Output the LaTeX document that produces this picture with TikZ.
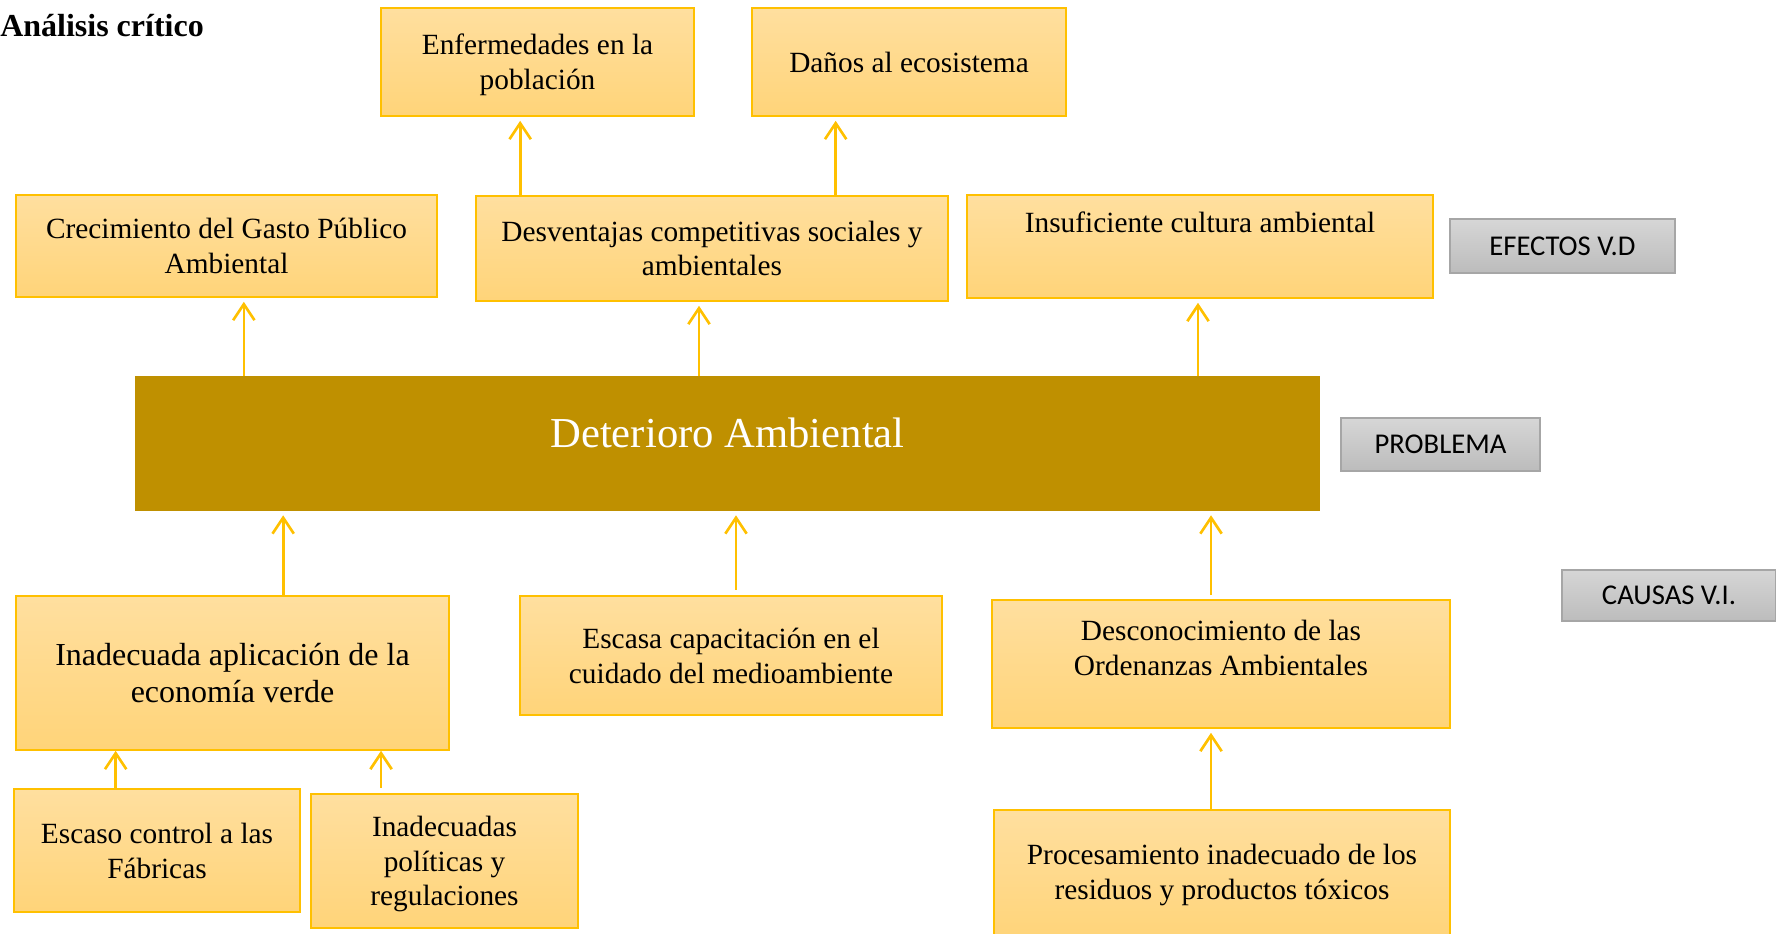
\documentclass[tikz,border=0pt]{standalone}
\usepackage{fontspec}
\setmainfont{Liberation Serif}
\newfontfamily\calibri{Carlito}
\usepackage{tikz}
\usetikzlibrary{arrows.meta}
\definecolor{oro}{HTML}{FFC000}
\definecolor{cajaA}{HTML}{FFDF9F}
\definecolor{cajaB}{HTML}{FFD479}
\definecolor{mostaza}{HTML}{BF9000}
\definecolor{grisA}{HTML}{D6D6D6}
\definecolor{grisB}{HTML}{BCBCBC}
\definecolor{grisC}{HTML}{A6A6A6}
\tikzset{>={Straight Barb[length=12pt,width=16pt]}}
\tikzset{caja/.style = {rectangle, draw=oro, line width=1.2pt, top color=cajaA, bottom color=cajaB, align=center, inner sep=0, font=\fontsize{22}{26}\selectfont}}
\tikzset{etiqueta/.style = {rectangle, draw=grisC, line width=1.2pt, top color=grisA, bottom color=grisB, inner sep=0, font=\calibri\fontsize{21.5}{25}\selectfont}}
\tikzset{flecha/.style = {->, draw=oro, line width=2pt, shorten >=3pt}}
\tikzset{tam/.style 2 args = {minimum width=#1*0.75pt, minimum height=#2*0.75pt}}

\begin{document}
\begin{tikzpicture}[x=0.75pt, y=-0.75pt]
\useasboundingbox (0,0) rectangle (1776,934);
\node [anchor=west, inner sep=0, font=\bfseries\fontsize{24}{28}\selectfont] (titulo) at (0,26) {Análisis crítico};

% efectos
\node [caja, tam={313}{108}, text depth=0pt] (enf) at (537.5,62) {Enfermedades en la\\población};
\node [caja, tam={314}{108}] (danos) at (909,62) {Daños al ecosistema};
\node [caja, tam={421}{102}] (crec) at (226.5,246) {Crecimiento del Gasto Público\\Ambiental};
\node [caja, tam={472}{105}] (desv) at (712,248.5) {Desventajas competitivas sociales y\\ambientales};
\node [caja, tam={466}{103}, text depth=36pt] (insuf) at (1200,246.5) {Insuficiente cultura ambiental};

% problema
\node [rectangle, fill=mostaza, inner sep=0, tam={1185}{135}, text=white, text depth=16pt, font=\fontsize{32}{38}\selectfont] (det) at (727.5,443.5) {Deterioro Ambiental};

% causas
\node [caja, tam={433}{154}, font=\fontsize{24}{27.5}\selectfont] (inad) at (232.5,673) {Inadecuada aplicación de la\\economía verde};
\node [caja, tam={422}{119}, text depth=0pt] (esca) at (731,655.5) {Escasa capacitación en el\\cuidado del medioambiente};
\node [caja, tam={458}{128}, text depth=24pt] (desc) at (1221,664) {Desconocimiento de las\\Ordenanzas Ambientales};
\node [caja, tam={286}{123}, text depth=0pt] (contr) at (157,850.5) {Escaso control a las\\Fábricas};
\node [caja, tam={267}{134}, text depth=0pt] (polit) at (444.5,861) {Inadecuadas\\políticas y\\regulaciones};
\node [caja, tam={456}{130}] (proc) at (1222,875) {Procesamiento inadecuado de los\\residuos y productos tóxicos};

% etiquetas
\node [etiqueta, tam={225}{54}] (efec) at (1562.5,246) {EFECTOS V.D};
\node [etiqueta, tam={199}{53}] (probl) at (1440.5,444.5) {PROBLEMA};
\node [etiqueta, tam={214}{51}] (caus) at (1669,595.5) {CAUSAS V.I.};

% flechas
\draw [flecha] ([xshift=13pt]det.north -| crec.south) -- ([xshift=13pt]crec.south);
\draw [flecha] ([xshift=-9.75pt]det.north -| desv.south) -- ([xshift=-9.75pt]desv.south);
\draw [flecha] ([xshift=-1.5pt]det.north -| insuf.south) -- ([xshift=-1.5pt]insuf.south);
\draw [flecha] ([xshift=-13pt]desv.north -| enf.south) -- ([xshift=-13pt]enf.south);
\draw [flecha] ([xshift=-55pt]desv.north -| danos.south) -- ([xshift=-55pt]danos.south);
\draw [flecha] ([xshift=38pt]inad.north) -- ([xshift=38pt]det.south -| inad.north);
\draw [flecha, shorten <=4pt] ([xshift=3.75pt]esca.north) -- ([xshift=3.75pt]det.south -| esca.north);
\draw [flecha, shorten <=3pt] ([xshift=-7.5pt]desc.north) -- ([xshift=-7.5pt]det.south -| desc.north);
\draw [flecha, shorten >=0pt] ([xshift=-31pt]contr.north) -- ([xshift=-31pt]inad.south -| contr.north);
\draw [flecha, shorten >=0pt, shorten <=4pt] ([xshift=-47.6pt]polit.north) -- ([xshift=-47.6pt]inad.south -| polit.north);
\draw [flecha] ([xshift=-8.25pt]proc.north) -- ([xshift=-8.25pt]desc.south -| proc.north);
\end{tikzpicture}
\end{document}
